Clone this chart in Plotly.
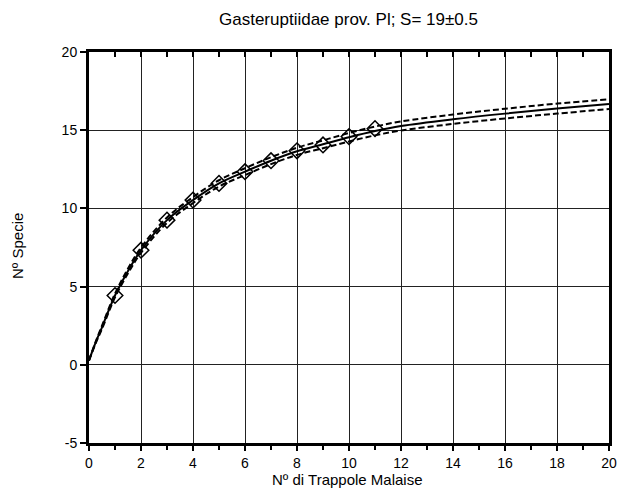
import plotly.graph_objects as go

# Observed data (diamonds)
obs_x = [1, 2, 3, 4, 5, 6, 7, 8, 9, 10, 11]
obs_y = [4.43, 7.33, 9.25, 10.53, 11.6, 12.35, 13.05, 13.68, 14.06, 14.59, 15.1]

# Fitted curve and confidence bands
curve_x = [0, 0.25, 0.5, 1, 1.5, 2, 3, 4, 5, 6, 7, 8, 9, 10, 11, 12, 14, 16, 18, 20]
curve_mid = [0.28, 1.4, 2.4, 4.43, 6.0, 7.33, 9.25, 10.53, 11.6, 12.35, 13.05, 13.65,
             14.1, 14.55, 14.95, 15.27, 15.7, 16.06, 16.38, 16.67]
curve_up = [0.28, 1.45, 2.5, 4.55, 6.15, 7.5, 9.42, 10.72, 11.8, 12.57, 13.27, 13.88,
            14.35, 14.82, 15.23, 15.56, 16.0, 16.37, 16.7, 16.97]
curve_lo = [0.28, 1.35, 2.3, 4.31, 5.85, 7.16, 9.08, 10.34, 11.4, 12.13, 12.83, 13.42,
            13.85, 14.28, 14.67, 14.98, 15.4, 15.75, 16.06, 16.35]

x_ticks = [0, 2, 4, 6, 8, 10, 12, 14, 16, 18, 20]
y_ticks = [-5, 0, 5, 10, 15, 20]

title_text = "Gasteruptiidae prov. Pl; S= 19±0.5"
x_title = "Nº di Trappole Malaise"
y_title = "Nº Specie"

FONT = "Liberation Sans, Arial, sans-serif"
L, R, T, B = 89, 8, 52, 48
W, H = 617, 491
PW, PH = W - L - R, H - T - B


def px_to_paper(px, py):
    return (px - L) / PW, (H - B - py) / PH


fig = go.Figure()
for ys, dash in [(curve_up, "dash"), (curve_lo, "dash"), (curve_mid, "solid")]:
    fig.add_trace(go.Scatter(x=curve_x, y=ys, mode="lines", line_shape="spline",
                             line=dict(color="black", width=2,
                                       dash="6px,3px" if dash == "dash" else "solid"),
                             showlegend=False, hoverinfo="skip"))
fig.add_trace(go.Scatter(x=obs_x, y=obs_y, mode="markers",
                         marker=dict(symbol="diamond-open", size=12, color="black",
                                     line=dict(width=1.5, color="black")),
                         showlegend=False))
# invisible trace on top axis for inward minor ticks
fig.add_trace(go.Scatter(x=[0], y=[0], xaxis="x2", mode="markers",
                         marker=dict(opacity=0), showlegend=False, hoverinfo="skip"))

tx, ty = px_to_paper(348, 20)
xx, xy = px_to_paper(347, 479)
yx, yy = px_to_paper(17, 246)

fig.update_layout(
    width=W, height=H,
    margin=dict(l=L, r=R, t=T, b=B, autoexpand=False),
    paper_bgcolor="white", plot_bgcolor="white",
    font=dict(family=FONT, size=14, color="black"),
    xaxis=dict(range=[0, 20], tickvals=x_ticks, ticktext=[str(v) for v in x_ticks],
               showgrid=True, gridcolor="#222222", gridwidth=1.3,
               showline=True, linecolor="black", linewidth=3, mirror=True,
               ticks="outside", ticklen=5, tickwidth=2, tickcolor="black",
               minor=dict(dtick=1, ticks="outside", ticklen=4, tickwidth=2,
                          tickcolor="black", showgrid=False),
               zeroline=False, tickfont=dict(size=14), automargin=False),
    xaxis2=dict(range=[0, 20], overlaying="x", side="top", anchor="y",
                showticklabels=False, showgrid=False, showline=False,
                ticks="inside", ticklen=5, tickwidth=2, tickcolor="black", dtick=1, tick0=1,
                zeroline=False, automargin=False),
    yaxis=dict(range=[-5, 20], tickvals=y_ticks, ticktext=[str(v) for v in y_ticks],
               showgrid=True, gridcolor="#222222", gridwidth=1.3,
               showline=True, linecolor="black", linewidth=3, mirror=True,
               ticks="outside", ticklen=6, tickwidth=2, tickcolor="black",
               zeroline=False, tickfont=dict(size=14), automargin=False),
    annotations=[
        dict(text=title_text, x=tx, y=ty, xref="paper", yref="paper", showarrow=False,
             font=dict(size=17, family=FONT), xanchor="center", yanchor="middle"),
        dict(text=x_title, x=xx, y=xy, xref="paper", yref="paper", showarrow=False,
             font=dict(size=15, family=FONT), xanchor="center", yanchor="middle"),
        dict(text=y_title, x=yx, y=yy, xref="paper", yref="paper", showarrow=False,
             textangle=-90, font=dict(size=15, family=FONT),
             xanchor="center", yanchor="middle"),
    ],
)

fig.write_html("out.html", config={"displayModeBar": False},
               post_script="document.body.style.margin='0';")
